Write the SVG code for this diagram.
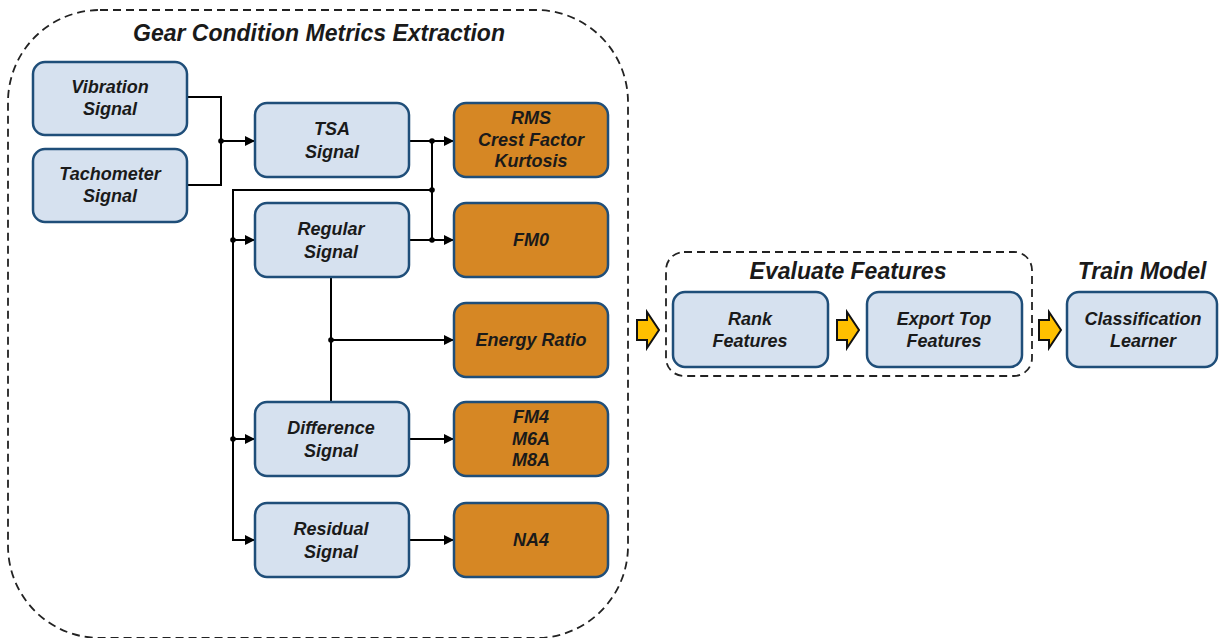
<svg xmlns="http://www.w3.org/2000/svg" width="1219" height="638" viewBox="0 0 1219 638">
<defs>
<style>
.t{font-family:"Liberation Sans",Arial,sans-serif;font-weight:bold;font-style:italic;font-size:18px;fill:#1a1a1a;text-anchor:middle}
.h{font-family:"Liberation Sans",Arial,sans-serif;font-weight:bold;font-style:italic;font-size:23px;fill:#1a1a1a;text-anchor:middle}
.b{fill:#D6E1EF;stroke:#1F4E79;stroke-width:2.5}
.o{fill:#D68724;stroke:#1F4E79;stroke-width:2.5}
.c{fill:none;stroke:#000;stroke-width:2}
.d{fill:none;stroke:#222;stroke-width:1.8;stroke-dasharray:8 5}
.y{fill:#FFC000;stroke:#111;stroke-width:2;stroke-linejoin:miter}
</style>
<marker id="ah" viewBox="0 0 10 10" refX="10" refY="5" markerWidth="5" markerHeight="5" orient="auto" markerUnits="strokeWidth">
<path d="M0,0 L10,5 L0,10 Z" fill="#000"/>
</marker>
<path id="ya" d="M0,-10 H10 V-18 L22,0 L10,18 V10 H0 Z"/>
</defs>
<rect width="1219" height="638" fill="#fff"/>

<g id="group-extraction">
<rect class="d" x="8" y="10" width="620" height="628" rx="92"/>
<text class="h" x="319" y="41">Gear Condition Metrics Extraction</text>
</g>
<g id="group-evaluate">
<rect class="d" x="666" y="252" width="366" height="124" rx="18"/>
<text class="h" x="848" y="279">Evaluate Features</text>
</g>
<g id="label-train">
<text class="h" x="1142" y="279">Train Model</text>
</g>

<g id="connectors">
<path class="c" d="M187,97 H221 V185 H187"/>
<path class="c" d="M221,141 H255" marker-end="url(#ah)"/>
<path class="c" d="M409,141 H454" marker-end="url(#ah)"/>
<path class="c" d="M432,141 V240"/>
<path class="c" d="M409,240 H454" marker-end="url(#ah)"/>
<path class="c" d="M432,190 H233 V540 H255" marker-end="url(#ah)"/>
<path class="c" d="M233,240 H255" marker-end="url(#ah)"/>
<path class="c" d="M233,439 H255" marker-end="url(#ah)"/>
<path class="c" d="M331,277 V402"/>
<path class="c" d="M331,340 H454" marker-end="url(#ah)"/>
<path class="c" d="M409,439 H454" marker-end="url(#ah)"/>
<path class="c" d="M409,540 H454" marker-end="url(#ah)"/>
<g fill="#000">
<circle cx="221" cy="141" r="2.8"/>
<circle cx="432" cy="141" r="2.8"/>
<circle cx="432" cy="190" r="2.8"/>
<circle cx="432" cy="240" r="2.8"/>
<circle cx="233" cy="240" r="2.8"/>
<circle cx="233" cy="439" r="2.8"/>
<circle cx="331" cy="340" r="2.8"/>
</g>
<use href="#ya" class="y" x="637" y="330"/>
<use href="#ya" class="y" x="837" y="330"/>
<use href="#ya" class="y" x="1039" y="330"/>
</g>

<g id="vibration">
<rect class="b" x="33" y="62" width="154" height="73" rx="12"/>
<text class="t" x="110" y="93">Vibration</text>
<text class="t" x="110" y="115">Signal</text>
</g>
<g id="tachometer">
<rect class="b" x="33" y="149" width="154" height="73" rx="12"/>
<text class="t" x="110" y="180">Tachometer</text>
<text class="t" x="110" y="202">Signal</text>
</g>
<g id="tsa">
<rect class="b" x="255" y="103" width="154" height="74" rx="12"/>
<text class="t" x="332" y="135">TSA</text>
<text class="t" x="332" y="158">Signal</text>
</g>
<g id="regular">
<rect class="b" x="255" y="203" width="154" height="74" rx="12"/>
<text class="t" x="331" y="235">Regular</text>
<text class="t" x="331" y="258">Signal</text>
</g>
<g id="difference">
<rect class="b" x="255" y="402" width="154" height="74" rx="12"/>
<text class="t" x="331" y="434">Difference</text>
<text class="t" x="331" y="457">Signal</text>
</g>
<g id="residual">
<rect class="b" x="255" y="503" width="154" height="74" rx="12"/>
<text class="t" x="331" y="535">Residual</text>
<text class="t" x="331" y="558">Signal</text>
</g>
<g id="rms">
<rect class="o" x="454" y="103" width="154" height="74" rx="12"/>
<text class="t" x="531" y="124">RMS</text>
<text class="t" x="531" y="146">Crest Factor</text>
<text class="t" x="531" y="167">Kurtosis</text>
</g>
<g id="fm0">
<rect class="o" x="454" y="203" width="154" height="74" rx="12"/>
<text class="t" x="531" y="246">FM0</text>
</g>
<g id="energy">
<rect class="o" x="454" y="303" width="154" height="74" rx="12"/>
<text class="t" x="531" y="346">Energy Ratio</text>
</g>
<g id="fm4">
<rect class="o" x="454" y="402" width="154" height="74" rx="12"/>
<text class="t" x="531" y="423">FM4</text>
<text class="t" x="531" y="445">M6A</text>
<text class="t" x="531" y="466">M8A</text>
</g>
<g id="na4">
<rect class="o" x="454" y="503" width="154" height="74" rx="12"/>
<text class="t" x="531" y="546">NA4</text>
</g>
<g id="rank">
<rect class="b" x="673" y="292" width="155" height="75" rx="12"/>
<text class="t" x="750" y="325">Rank</text>
<text class="t" x="750" y="347">Features</text>
</g>
<g id="export">
<rect class="b" x="867" y="292" width="155" height="75" rx="12"/>
<text class="t" x="944" y="325">Export Top</text>
<text class="t" x="944" y="347">Features</text>
</g>
<g id="classification">
<rect class="b" x="1067" y="292" width="150" height="75" rx="12"/>
<text class="t" x="1143" y="325">Classification</text>
<text class="t" x="1143" y="347">Learner</text>
</g>
</svg>
